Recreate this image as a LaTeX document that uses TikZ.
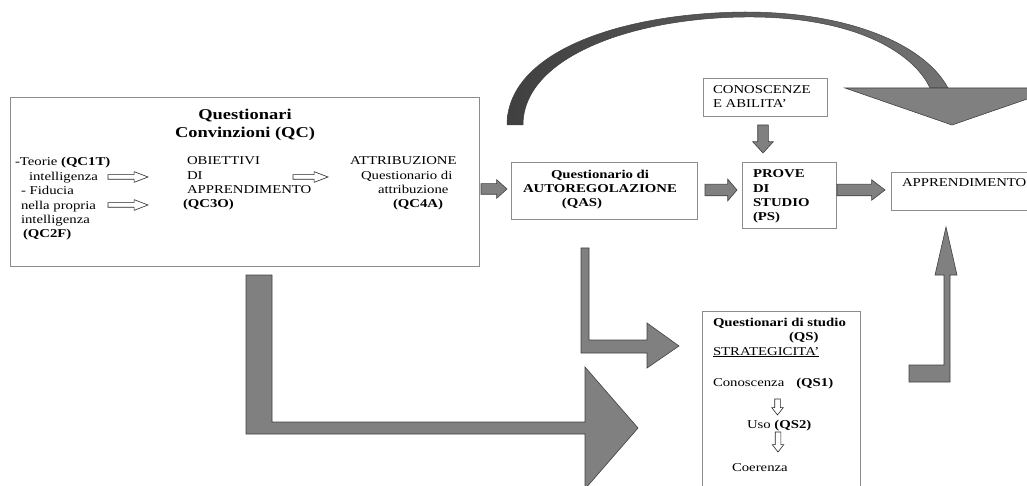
\documentclass[tikz,border=0pt]{standalone}
\usepackage{fontspec}
\setmainfont{Liberation Serif}[FakeStretch=1.23]
\usetikzlibrary{shapes.arrows, fit}

\begin{document}
\begin{tikzpicture}[x=1pt, y=-1pt,
    every node/.style={font=\fontsize{12}{14.4}\selectfont, inner sep=0pt, outer sep=0pt},
    box/.style={rectangle, draw=black!45, line width=0.9pt, fill=white, inner sep=0pt},
    txt/.style={anchor=base west, align=left},
    blockarrow/.style={single arrow, draw=black!75, fill=black!50, line width=0.6pt, inner xsep=0pt, anchor=tail},
    hollowarrow/.style={single arrow, draw=black!85, fill=white, line width=0.6pt, inner xsep=0pt, anchor=tail},
    bigshape/.style={draw=black!75, fill=black!50, line width=0.6pt}]

    \useasboundingbox (0,0) rectangle (1027,486);
    \clip (0,0) rectangle (1027,486);

    % Curved arrow over the top
    \shadedraw[left color=black!75, right color=black!55, draw=black!75, line width=0.5pt]
        (507,125) .. controls (507,52) and (620,13) .. (745,12)
        .. controls (850,12) and (925,45) .. (948,88) -- (930,88)
        .. controls (912,50) and (850,16) .. (745,17)
        .. controls (630,18) and (523,58) .. (523,125) -- cycle;
    \filldraw[bigshape] (845,88) -- (1059,88) -- (952,125) -- cycle;

    % Questionari Convinzioni
    \node[box, fit={(10,97) (479,266)}] (qc) {};
    \node[font=\fontsize{15}{18}\selectfont\bfseries, align=center, anchor=base] (qc_title) at (245,138) {Questionari\\Convinzioni (QC)};
    \node[txt] (teorie) at (15,238) {-Teorie \textbf{(QC1T)}\\\hspace*{14pt}intelligenza\\\hspace*{6pt}- Fiducia\\\hspace*{6pt}nella propria\\\hspace*{6pt}intelligenza\\\hspace*{8pt}\textbf{(QC2F)}};
    \node[txt] (obiettivi) at (187,208) {OBIETTIVI\\DI\\APPRENDIMENTO\\\hspace*{-4pt}\textbf{(QC3O)}};
    \node[txt] (attrib) at (350,208) {ATTRIBUZIONE\\\hspace*{11pt}Questionario di\\\hspace*{28pt}attribuzione\\\hspace*{43pt}\textbf{(QC4A)}};
    \node[hollowarrow, minimum height=40pt, inner ysep=2pt, single arrow head extend=3pt, single arrow tip angle=42] (teorie_arr) at (108,177) {};
    \node[hollowarrow, minimum height=40pt, inner ysep=2pt, single arrow head extend=3pt, single arrow tip angle=42] (fiducia_arr) at (108,205) {};
    \node[hollowarrow, minimum height=35pt, inner ysep=2pt, single arrow head extend=3pt, single arrow tip angle=42] (obiettivi_arr) at (293,177) {};

    % Autoregolazione, prove, apprendimento
    \node[box, fit={(511,162) (697,219)}] (qas) {};
    \node[align=center, anchor=base, font=\fontsize{12}{14.4}\selectfont\bfseries] (qas_text) at (600,207) {Questionario di\\AUTOREGOLAZIONE\\\hspace*{-36pt}(QAS)};
    \node[box, fit={(703,78) (827,116)}] (conosc) {};
    \node[txt] (conosc_text) at (713,108) {CONOSCENZE\\E ABILITA'};
    \node[box, fit={(742,162) (836,228)}] (ps) {};
    \node[txt, font=\fontsize{12}{14.4}\selectfont\bfseries] (ps_text) at (753,221) {PROVE\\DI\\STUDIO\\(PS)};
    \node[box, fit={(891,172) (1045,210)}] (appr) {};
    \node[txt] (appr_text) at (902,187) {APPRENDIMENTO};

    \node[blockarrow, minimum height=26pt, inner ysep=5pt, single arrow head extend=4pt, single arrow tip angle=84] (qc2qas) at (481,189) {};
    \node[blockarrow, minimum height=32pt, inner ysep=5.5pt, single arrow head extend=5pt, single arrow tip angle=99] (qas2ps) at (705,190) {};
    \node[blockarrow, minimum height=48pt, inner ysep=5.5pt, single arrow head extend=4.5pt, single arrow tip angle=75] (ps2appr) at (837,190) {};
    \node[blockarrow, shape border rotate=270, minimum height=28pt, inner xsep=5pt, inner ysep=0pt, single arrow head extend=5pt, single arrow tip angle=85] (conosc2ps) at (763,125) {};

    % Questionari di studio
    \node[box, fit={(702,311) (860,500)}] (qs) {};
    \node[txt] (qs_title) at (713,355) {\textbf{Questionari di studio}\\\hspace*{76pt}\textbf{(QS)}\\\underline{STRATEGICITA'}};
    \node[txt] (qs1) at (713,386) {Conoscenza\hspace*{12pt}\textbf{(QS1)}};
    \node[txt] (qs2) at (747,428) {Uso \textbf{(QS2)}};
    \node[txt] (qs3) at (732,471) {Coerenza};
    \node[hollowarrow, shape border rotate=270, minimum height=16pt, inner xsep=2.5pt, inner ysep=0pt, single arrow head extend=3pt, single arrow tip angle=76] (qs1_arr) at (777.5,399) {};
    \node[hollowarrow, shape border rotate=270, minimum height=20pt, inner xsep=2.5pt, inner ysep=0pt, single arrow head extend=3pt, single arrow tip angle=76] (qs2_arr) at (778,432) {};

    % Bent arrows
    \filldraw[bigshape] (246,275) -- (272,275) -- (272,422) -- (585,422) -- (585,367) -- (638,428)
        -- (585,489) -- (585,434) -- (246,434) -- cycle;
    \filldraw[bigshape] (581,248) -- (589,248) -- (589,340) -- (647,340) -- (647,323) -- (679,346)
        -- (647,368) -- (647,353) -- (581,353) -- cycle;
    \filldraw[bigshape] (909,365) -- (944,365) -- (944,275) -- (935,275) -- (946,227) -- (957,275)
        -- (950,275) -- (950,382) -- (909,382) -- cycle;

\end{tikzpicture}
\end{document}
